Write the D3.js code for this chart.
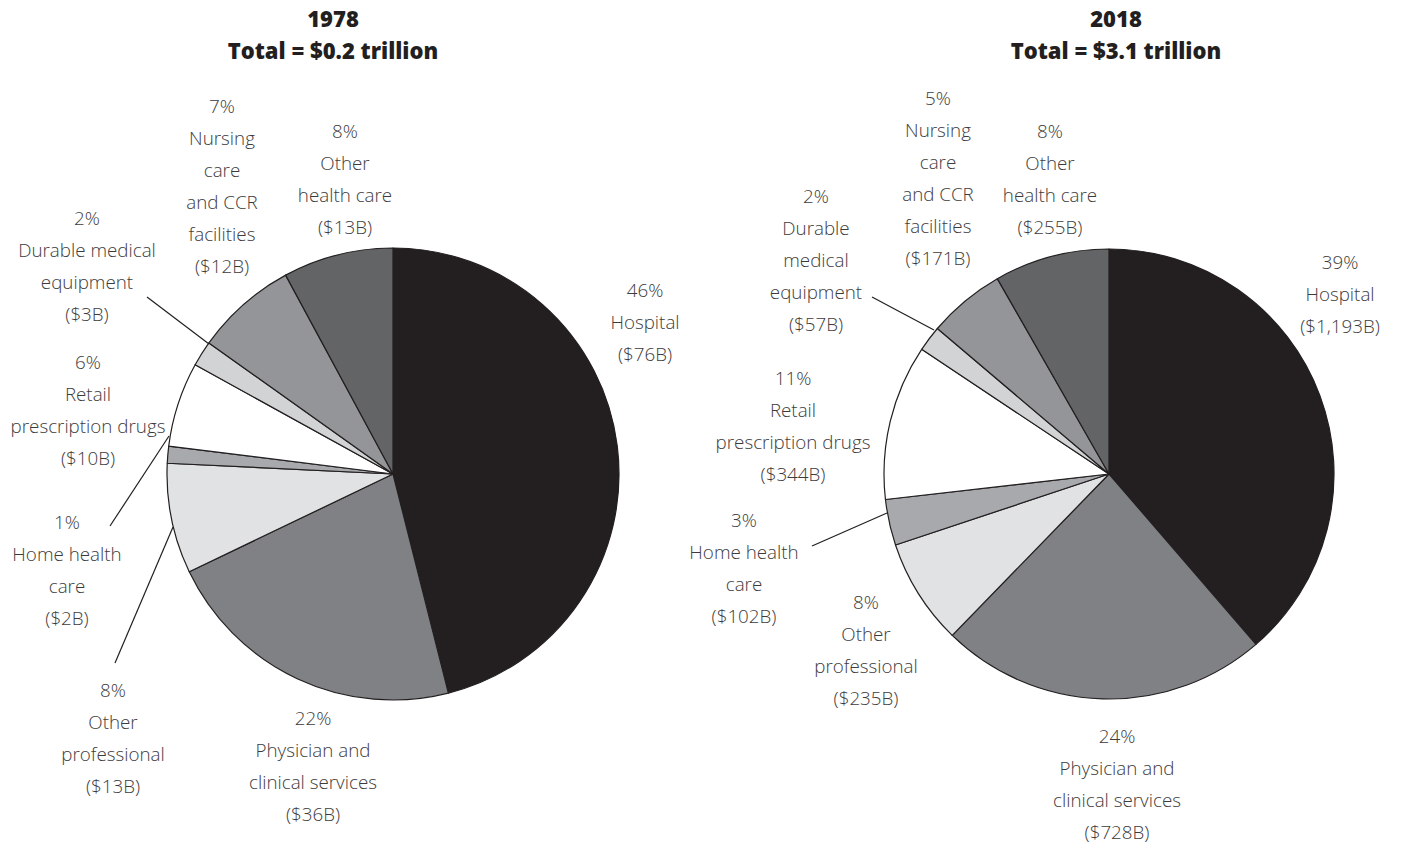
<!DOCTYPE html>
<html>
<head>
<meta charset="utf-8">
<script src="https://cdn.jsdelivr.net/npm/d3@7"></script>
<style>
  html, body { margin: 0; padding: 0; background: #fff; }
  svg { display: block; }
  .lbl { font-family: "Open Sans", "Lato", sans-serif; font-weight: 300; font-size: 18.8px; fill: #3d3b3c; }
  .ttl { font-family: "Open Sans", "Lato", sans-serif; font-weight: 800; font-size: 22px; fill: #231f20; }
</style>
</head>
<body>
<svg id="chart" width="1416" height="844"></svg>
<script>
// ---------------- data ----------------
const categories = ["Hospital", "Physician and clinical services", "Other professional", "Home health care",
  "Retail prescription drugs", "Durable medical equipment", "Nursing care and CCR facilities", "Other health care"];
const values1978 = [76, 36, 13, 2, 10, 3, 12, 13];
const values2018 = [1193, 728, 235, 102, 344, 57, 171, 255];
const percents1978 = ["46%", "22%", "8%", "1%", "6%", "2%", "7%", "8%"];
const percents2018 = ["39%", "24%", "8%", "3%", "11%", "2%", "5%", "8%"];
const amounts1978 = ["($76B)", "($36B)", "($13B)", "($2B)", "($10B)", "($3B)", "($12B)", "($13B)"];
const amounts2018 = ["($1,193B)", "($728B)", "($235B)", "($102B)", "($344B)", "($57B)", "($171B)", "($255B)"];
const titles = [["1978", "Total = $0.2 trillion"], ["2018", "Total = $3.1 trillion"]];
// category text as wrapped for each panel
const names1978 = [["Hospital"], ["Physician and", "clinical services"], ["Other", "professional"], ["Home health", "care"],
  ["Retail", "prescription drugs"], ["Durable medical", "equipment"], ["Nursing", "care", "and CCR", "facilities"], ["Other", "health care"]];
const names2018 = [["Hospital"], ["Physician and", "clinical services"], ["Other", "professional"], ["Home health", "care"],
  ["Retail", "prescription drugs"], ["Durable", "medical", "equipment"], ["Nursing", "care", "and CCR", "facilities"], ["Other", "health care"]];

// ---------------- styles / layout ----------------
const colors = ["#231f20", "#808184", "#e1e2e4", "#a7a9ac", "#ffffff", "#d1d3d4", "#939598", "#636466"];
const lineH = 32;
const panels = [
  { cx: 393, cy: 474, r: 226, titleX: 333, values: values1978, pct: percents1978, amt: amounts1978, names: names1978,
    labels: [[645, 290], [313, 718], [113, 690], [67, 522], [88, 362], [87, 218], [222, 106], [345, 131]],
    leaders: { 2: [[115, 663], [173, 527]], 3: [[110, 526], [169, 436]], 5: [[147, 297], [209, 344]] } },
  { cx: 1109, cy: 474, r: 225, titleX: 1116, values: values2018, pct: percents2018, amt: amounts2018, names: names2018,
    labels: [[1340, 262], [1117, 736], [866, 602], [744, 520], [793, 378], [816, 196], [938, 98], [1050, 131]],
    leaders: { 3: [[812, 546], [887, 513]], 5: [[872, 297], [934, 330]] } }
];

const svg = d3.select("#chart");
const pie = d3.pie().sort(null).value(d => d);

panels.forEach((p, pi) => {
  const g = svg.append("g");
  // titles
  titles[pi].forEach((t, i) => {
    g.append("text").attr("class", "ttl").attr("x", p.titleX).attr("y", 18 + i * 32)
      .attr("text-anchor", "middle").attr("dominant-baseline", "central").text(t);
  });
  const arc = d3.arc().innerRadius(0).outerRadius(p.r);
  const pg = g.append("g").attr("transform", `translate(${p.cx},${p.cy})`);
  pg.selectAll("path").data(pie(p.values)).join("path")
    .attr("d", arc)
    .attr("fill", (d, i) => colors[i])
    .attr("stroke", "#231f20")
    .attr("stroke-width", 1.2)
    .attr("stroke-linejoin", "round");
  // leader lines
  Object.entries(p.leaders).forEach(([k, pts]) => {
    g.append("line").attr("x1", pts[0][0]).attr("y1", pts[0][1]).attr("x2", pts[1][0]).attr("y2", pts[1][1])
      .attr("stroke", "#231f20").attr("stroke-width", 1.2);
  });
  // labels
  p.values.forEach((v, i) => {
    const lines = [p.pct[i], ...p.names[i], p.amt[i]];
    const [lx, ly] = p.labels[i];
    const t = g.append("text").attr("class", "lbl").attr("text-anchor", "middle");
    lines.forEach((s, j) => {
      t.append("tspan").attr("x", lx).attr("y", ly + j * lineH).attr("dominant-baseline", "central").text(s);
    });
  });
});
</script>
</body>
</html>
